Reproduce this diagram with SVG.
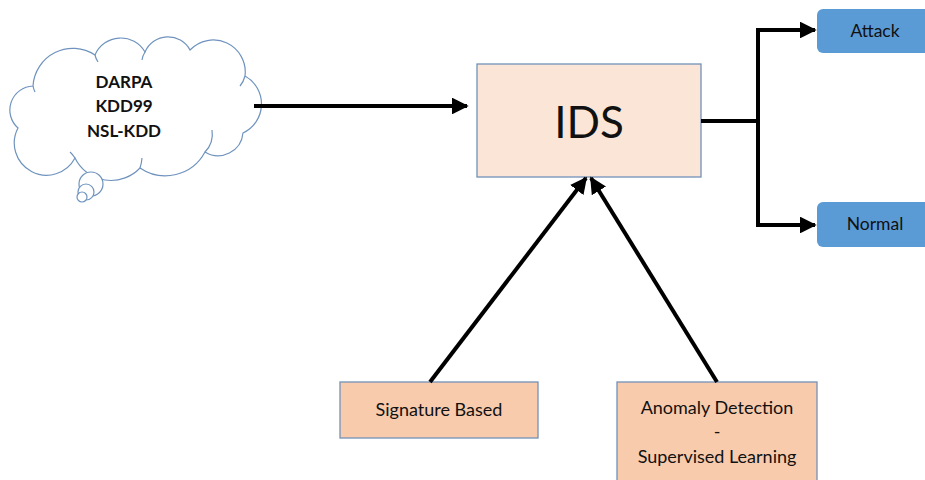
<svg xmlns="http://www.w3.org/2000/svg" width="925" height="480" viewBox="0 0 925 480">
  <style>
    .lbl { font-family: Lato, "Open Sans", "Liberation Sans", sans-serif; fill: #111; text-anchor: middle; }
    .box { stroke: #7291B8; stroke-width: 1.3; }
    .wire { fill: none; stroke: #000; stroke-width: 4; }
    .cloud { fill: #fff; stroke: #6F93BE; stroke-width: 1.2; }
  </style>
  <defs>
    <marker id="head" viewBox="0 0 10 10" refX="9" refY="5" markerWidth="4.2" markerHeight="4.2" markerUnits="strokeWidth" orient="auto">
      <path d="M0,0 L10,5 L0,10 Z" fill="#000"/>
    </marker>
  </defs>
  <rect width="925" height="480" fill="#fff"/>

  <!-- dataset cloud -->
  <g id="datasets">
    <path class="cloud" d="M18,128 A24,24 0 0 1 33,86 A40,40 0 0 1 95,55 A28,28 0 0 1 145,52 A25,25 0 0 1 190,50 A32,32 0 0 1 245,76 A32,32 0 0 1 243,133 A25,25 0 0 1 205,152 A45,45 0 0 1 140,168 A40,40 0 0 1 75,158 A28,28 0 0 1 18,128 Z"/>
    <path class="cloud" fill="none" d="M33,86 A22,22 0 0 0 35,92 M95,55 A20,20 0 0 0 98,62 M145,52 A20,20 0 0 0 142,60 M245,76 A25,25 0 0 1 240,86 M205,152 A26,26 0 0 0 212,130 M140,168 A40,40 0 0 0 142,158 M75,158 A28,28 0 0 0 70,152"/>
    <circle class="cloud" cx="91" cy="184" r="12"/>
    <circle class="cloud" cx="86" cy="192" r="8"/>
    <circle class="cloud" cx="82" cy="197" r="5"/>
    <text class="lbl" x="124" y="88" font-size="17" font-weight="bold">DARPA</text>
    <text class="lbl" x="124" y="112" font-size="17" font-weight="bold">KDD99</text>
    <text class="lbl" x="124" y="137" font-size="17" font-weight="bold">NSL-KDD</text>
  </g>

  <!-- central detector -->
  <g id="ids">
    <rect class="box" x="477" y="64" width="224" height="113" fill="#FBE5D6"/>
    <text class="lbl" x="589" y="138" font-size="44">IDS</text>
  </g>

  <!-- outcomes -->
  <g id="attack">
    <rect x="817" y="9" width="120" height="44" rx="6" fill="#5B9BD5"/>
    <text class="lbl" x="875" y="37" font-size="17.5">Attack</text>
  </g>
  <g id="normal">
    <rect x="817" y="202" width="120" height="45" rx="6" fill="#5B9BD5"/>
    <text class="lbl" x="875" y="230" font-size="17.5">Normal</text>
  </g>

  <!-- detection methods -->
  <g id="signature">
    <rect class="box" x="340" y="382" width="198" height="56" fill="#F8CBAD"/>
    <text class="lbl" x="439" y="416" font-size="18">Signature Based</text>
  </g>
  <g id="anomaly">
    <rect class="box" x="617" y="382" width="200" height="110" fill="#F8CBAD"/>
    <text class="lbl" x="717" y="414" font-size="18">Anomaly Detection</text>
    <text class="lbl" x="717" y="438" font-size="18">-</text>
    <text class="lbl" x="717" y="463" font-size="18">Supervised Learning</text>
  </g>

  <!-- connectors -->
  <g id="connectors">
    <line class="wire" x1="254" y1="106" x2="467" y2="106" marker-end="url(#head)"/>
    <polyline class="wire" points="701,121 758,121"/>
    <polyline class="wire" points="815,30 758,30 758,225 815,225" fill="none"/>
    <line class="wire" x1="758" y1="30" x2="815" y2="30" marker-end="url(#head)"/>
    <line class="wire" x1="758" y1="225" x2="815" y2="225" marker-end="url(#head)"/>
    <line class="wire" x1="430" y1="382" x2="586" y2="178" marker-end="url(#head)"/>
    <line class="wire" x1="717" y1="382" x2="591" y2="178" marker-end="url(#head)"/>
  </g>
</svg>
